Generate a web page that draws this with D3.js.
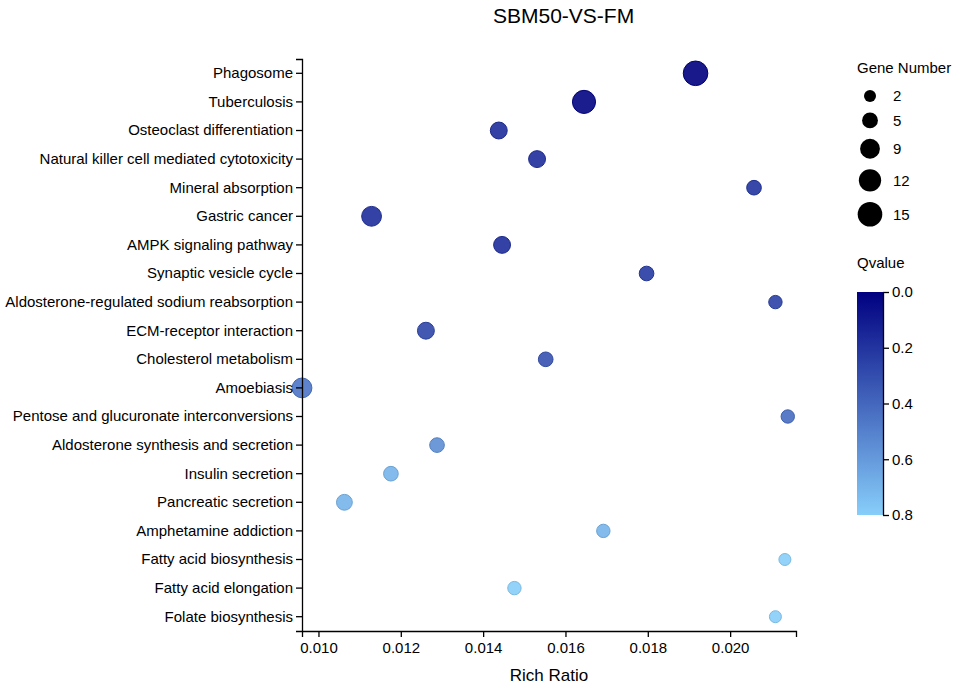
<!DOCTYPE html>
<html>
<head>
<meta charset="utf-8">
<script src="https://cdn.jsdelivr.net/npm/d3@7"></script>
<style>
  body { margin: 0; background: #fff; }
  text { font-family: "Liberation Sans", Arial, sans-serif; }
</style>
</head>
<body>
<div id="bubble-chart"></div>
<script>
const pathways = ["Phagosome", "Tuberculosis", "Osteoclast differentiation",
  "Natural killer cell mediated cytotoxicity", "Mineral absorption", "Gastric cancer",
  "AMPK signaling pathway", "Synaptic vesicle cycle", "Aldosterone-regulated sodium reabsorption",
  "ECM-receptor interaction", "Cholesterol metabolism", "Amoebiasis",
  "Pentose and glucuronate interconversions", "Aldosterone synthesis and secretion",
  "Insulin secretion", "Pancreatic secretion", "Amphetamine addiction",
  "Fatty acid biosynthesis", "Fatty acid elongation", "Folate biosynthesis"];
const richRatio = [0.01916, 0.01645, 0.01438, 0.01531, 0.02058, 0.01129,
  0.01446, 0.01797, 0.02110, 0.01261, 0.01552, 0.00960,
  0.02140, 0.01288, 0.01176, 0.01063, 0.01692,
  0.02133, 0.01476, 0.02110];
const geneNumber = [15, 13, 6, 6, 4, 9, 6, 4, 3, 6, 4, 9, 3, 4, 4, 5, 3, 2, 3, 2];
const qValue = [0.0, 0.01, 0.18, 0.18, 0.2, 0.18, 0.18, 0.23, 0.25, 0.27, 0.32, 0.45,
  0.42, 0.55, 0.7, 0.7, 0.7, 0.8, 0.8, 0.8];
const sizeTicks = [2, 5, 9, 12, 15];
const qTicks = [0, 0.2, 0.4, 0.6, 0.8];

const data = pathways.map((p, i) => ({pathway: p, ratio: richRatio[i], genes: geneNumber[i], q: qValue[i]}));

const margin = {top: 59, right: 161, bottom: 55, left: 302},
  width = 957 - margin.left - margin.right,
  height = 686 - margin.top - margin.bottom;

const svg = d3.select("#bubble-chart")
  .append("svg")
    .attr("width", 957)
    .attr("height", 686);

const g = svg.append("g")
    .attr("transform", `translate(${margin.left},${margin.top})`);

const xScale = d3.scaleLinear()
  .domain([0.0096, 0.0216])
  .range([0, width]);
const yScale = d3.scaleBand()
  .domain(pathways)
  .range([0, height]);
const rScale = d3.scaleRadial()
  .domain([2, 15])
  .range([6, 12.3]);
const colorScale = d3.scaleLinear()
  .domain([0, 0.8])
  .range(["#000080", "#87cefa"])
  .interpolate(d3.interpolateRgb);

// bubbles
g.selectAll(".dot")
  .data(data)
  .enter()
  .append("circle")
    .attr("class", "dot")
    .attr("cx", d => xScale(d.ratio))
    .attr("cy", d => yScale(d.pathway) + yScale.bandwidth() / 2)
    .attr("r", d => rScale(d.genes))
    .attr("fill", d => colorScale(d.q))
    .attr("fill-opacity", 0.9)
    .attr("stroke", d => d3.color(colorScale(d.q)).darker(0.3));

const xAxis = d3.axisBottom(xScale)
  .tickValues([0.010, 0.012, 0.014, 0.016, 0.018, 0.020])
  .tickFormat(d3.format(".3f"));
const yAxis = d3.axisLeft(yScale);

g.append("g")
    .attr("class", "x-axis")
    .attr("transform", `translate(0,${height})`)
    .call(xAxis)
    .call(a => a.selectAll("text").attr("font-size", 15).attr("dy", "0.85em"));

g.append("g")
    .attr("class", "y-axis")
    .call(yAxis)
    .call(a => a.selectAll("text").attr("font-size", 15));

g.selectAll(".domain, .tick line").attr("stroke", "#000").attr("stroke-width", 1.3);

// titles
svg.append("text")
    .attr("x", 493)
    .attr("y", 23)
    .attr("font-size", 21)
    .text("SBM50-VS-FM");

svg.append("text")
    .attr("x", margin.left + width / 2)
    .attr("y", 681)
    .attr("text-anchor", "middle")
    .attr("font-size", 17)
    .text("Rich Ratio");

// gene number legend
const legX = 857;
svg.append("text")
    .attr("x", legX)
    .attr("y", 73)
    .attr("font-size", 15)
    .text("Gene Number");

let yPos = 96, prevR = null;
const sizeLeg = sizeTicks.map(n => {
  const r = rScale(n);
  if (prevR !== null) yPos += prevR + r + 10.5;
  prevR = r;
  return {n, r, y: yPos};
});
const sl = svg.selectAll(".size-leg")
  .data(sizeLeg)
  .enter()
  .append("g")
    .attr("class", "size-leg")
    .attr("transform", d => `translate(${legX + 13},${d.y})`);
sl.append("circle")
    .attr("r", d => d.r)
    .attr("fill", "#000");
sl.append("text")
    .attr("x", 23)
    .attr("dy", "0.35em")
    .attr("font-size", 15)
    .text(d => d.n);

// qvalue colour bar
svg.append("text")
    .attr("x", legX)
    .attr("y", 268)
    .attr("font-size", 15)
    .text("Qvalue");

const barTop = 292, barH = 223, barW = 26;
const grad = svg.append("defs").append("linearGradient")
    .attr("id", "qgrad")
    .attr("x1", 0).attr("y1", 0).attr("x2", 0).attr("y2", 1);
grad.selectAll("stop")
  .data(qTicks)
  .enter()
  .append("stop")
    .attr("offset", d => d / 0.8)
    .attr("stop-color", d => colorScale(d));

svg.append("rect")
    .attr("x", legX)
    .attr("y", barTop)
    .attr("width", barW)
    .attr("height", barH)
    .attr("fill", "url(#qgrad)");

const qScale = d3.scaleLinear().domain([0, 0.8]).range([barTop, barTop + barH]);
svg.append("g")
    .attr("transform", `translate(${legX + barW},0)`)
    .call(d3.axisRight(qScale).tickValues(qTicks).tickFormat(d3.format(".1f")).tickSizeOuter(0))
    .call(a => a.selectAll("text").attr("font-size", 15))
    .call(a => a.selectAll(".domain, .tick line").attr("stroke", "#000").attr("stroke-width", 1.3));
</script>
</body>
</html>
